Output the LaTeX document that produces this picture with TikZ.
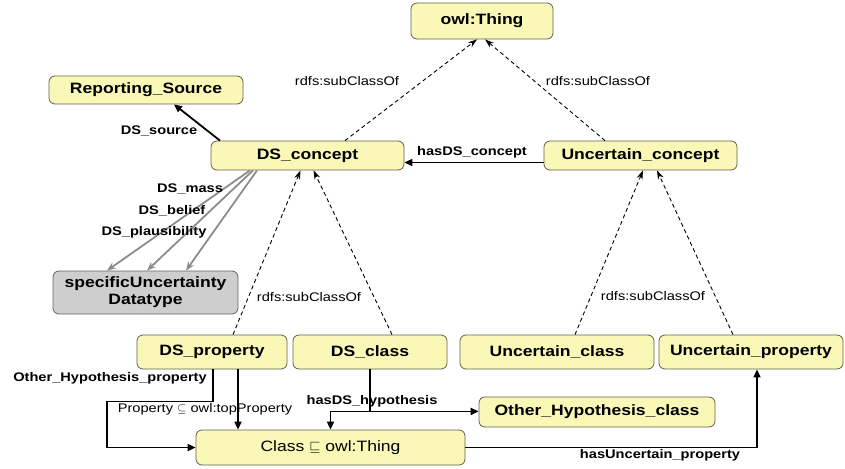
\documentclass[tikz,border=0pt]{standalone}
\usepackage{fontspec}
\setmainfont[FakeStretch=1.17]{Liberation Sans}
\usetikzlibrary{arrows.meta}
\definecolor{boxfill}{RGB}{250,248,182}
\definecolor{boxline}{RGB}{95,95,75}
\definecolor{grayfill}{RGB}{206,206,206}
\definecolor{grayline}{RGB}{100,100,100}
\definecolor{arrgray}{RGB}{140,140,140}
\begin{document}
\begin{tikzpicture}[x=1pt,y=-1pt,
  box/.style={draw=boxline, fill=boxfill, rounded corners=6pt, line width=0.8pt, inner sep=0pt,
              font=\fontsize{15}{17}\selectfont\bfseries},
  plainbox/.style={box, font=\fontsize{15}{17}\selectfont},
  graybox/.style={box, draw=grayline, fill=grayfill, align=center},
  subarrow/.style={dash pattern=on 4pt off 3pt, line width=0.9pt, -{Stealth[length=9pt,width=6pt]}},
  relarrow/.style={line width=1.8pt, -{Triangle[length=8pt,width=7pt]}},
  relline/.style={line width=1.8pt},
  grayarrow/.style={draw=arrgray, line width=1.8pt, -{Stealth[length=9pt,width=7pt]}},
  elab/.style={font=\fontsize{12.5}{14}\selectfont\bfseries, inner sep=0pt},
  rlab/.style={font=\fontsize{12.5}{14}\selectfont, inner sep=0pt}
]
\useasboundingbox (0,0) rectangle (845,468);

% nodes
\node[box, minimum width=142pt, minimum height=36pt] (thing) at (482,21) {owl:Thing};
\node[box, minimum width=194pt, minimum height=28pt] (rs) at (146,90) {Reporting\_Source};
\node[box, minimum width=193pt, minimum height=29pt] (dsc) at (307.5,155.5) {DS\_concept};
\node[box, minimum width=193pt, minimum height=29pt] (uc) at (640.5,155.5) {Uncertain\_concept};
\node[graybox, minimum width=185pt, minimum height=43pt] (sud) at (145.5,292.5) {specificUncertainty\\Datatype};
\node[box, minimum width=150pt, minimum height=34pt] (dsp) at (212,352) {DS\_property};
\node[box, minimum width=154pt, minimum height=34pt] (dscl) at (370,352) {DS\_class};
\node[box, minimum width=194pt, minimum height=34pt] (ucl) at (557,352) {Uncertain\_class};
\node[box, minimum width=184pt, minimum height=34pt] (up) at (751,352) {Uncertain\_property};
\node[box, minimum width=236pt, minimum height=30pt] (ohc) at (597,412) {Other\_Hypothesis\_class};
\node[plainbox, minimum width=269pt, minimum height=35pt] (cls) at (330.5,447.5) {Class $\sqsubseteq$ owl:Thing};

% subclass (dashed) connectors
\draw[subarrow] ([xshift=37.5pt]dsc.north) -- ([xshift=-5pt]thing.south);
\draw[subarrow] ([xshift=-35.5pt]uc.north) -- ([xshift=3pt]thing.south);
\draw[subarrow] ([xshift=21pt]dsp.north) -- ([xshift=-7pt]dsc.south);
\draw[subarrow] ([xshift=22pt]dscl.north) -- ([xshift=6pt]dsc.south);
\draw[subarrow] ([xshift=18pt]ucl.north) -- ([xshift=2.5pt]uc.south);
\draw[subarrow] ([xshift=-18pt]up.north) -- ([xshift=16.5pt]uc.south);

% properties
\draw[relarrow] ([xshift=-87.5pt]dsc.north) -- ([xshift=28pt]rs.south);
\draw[relarrow] ([yshift=-7pt]uc.west) -- ([yshift=-7pt]dsc.east);
\draw[grayarrow] ([xshift=-57.5pt]dsc.south) -- ([xshift=-38.5pt]sud.north);
\draw[grayarrow] ([xshift=-54.5pt]dsc.south) -- ([xshift=1.5pt]sud.north);
\draw[grayarrow] ([xshift=-50.5pt]dsc.south) -- ([xshift=40.5pt]sud.north);

\draw[relarrow] ([xshift=1pt]dsp.south) -- ++(0,32) -- ++(-106,0) |- (cls.west);
\draw[relarrow] ([xshift=26pt]dsp.south) -- ([xshift=26pt]dsp.south |- cls.north);
\draw[relline] (dscl.south) -- ++(0,42) coordinate (hb);
\draw[relarrow] (hb) -| (cls.north);
\draw[relarrow] (hb) -- (hb -| ohc.west);
\draw[relarrow] (cls.east) -| ([xshift=6pt]up.south);

% labels
\node[rlab] (l1) at (347,81) {rdfs:subClassOf};
\node[rlab] (l2) at (598,81) {rdfs:subClassOf};
\node[rlab] (l3) at (309,297) {rdfs:subClassOf};
\node[rlab] (l4) at (653,296) {rdfs:subClassOf};
\node[elab] (l5) at (159,131) {DS\_source};
\node[elab] (l6) at (472,152) {hasDS\_concept};
\node[elab] (l7) at (190,189) {DS\_mass};
\node[elab] (l8) at (172,211) {DS\_belief};
\node[elab] (l9) at (154,232) {DS\_plausibility};
\node[elab] (l10) at (110,378) {Other\_Hypothesis\_property};
\node[rlab] (l11) at (205,409) {Property $\subseteq$ owl:topProperty};
\node[elab] (l12) at (372,401) {hasDS\_hypothesis};
\node[elab] (l13) at (660,455) {hasUncertain\_property};
\end{tikzpicture}
\end{document}
